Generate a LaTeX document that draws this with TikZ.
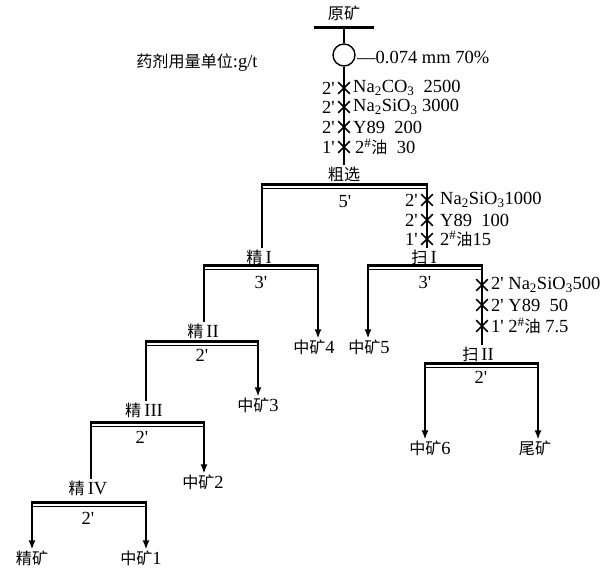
\documentclass[tikz,border=0pt]{standalone}
\usepackage{fontspec}
\setmainfont{Liberation Serif}
\newfontfamily\zh{Noto Sans CJK SC}[Scale=0.87]
\usetikzlibrary{arrows.meta,shapes.misc}

\begin{document}
\begin{tikzpicture}[
  x=1pt, y=-1pt,
  every node/.style={font=\fontsize{18.5}{20}\selectfont, inner sep=1pt},
  bartop/.style={line width=3pt, shorten <=-0.8pt, shorten >=-0.8pt},
  barbot/.style={line width=1pt, shorten <=-0.8pt, shorten >=-0.8pt},
  flow/.style={line width=1.5pt},
  flowarrow/.style={line width=1.5pt, -{Latex[length=9pt,width=7pt]}},
  dosemark/.style={cross out, draw, line width=1.6pt, minimum width=10pt, minimum height=10pt, inner sep=0pt},
  dose/.style={anchor=west, inner sep=0pt},
  dosetime/.style={anchor=east, inner sep=0pt},
]
\useasboundingbox (0,0) rectangle (612,568);

% feed and grinding
\node (unit) at (197,63) {{\zh 药剂用量单位}:g/t};
\node (feed) at (344,13) {\zh 原矿};
\coordinate (f1) at (315,27);
\coordinate (f2) at (373,27);
\coordinate (f0) at (344,27);
\draw[bartop] (f1) -- (f2);
\node[circle, draw, line width=1.4pt, minimum size=22pt, inner sep=0pt] (mill) at (344,55) {};
\node[dose] (grind) at (357,57) {—0.074 mm 70\%};
\node (rough) at (344,174) {\zh 粗选};
\draw[flow] (f0) -- (mill.north);
\draw[flow] (mill.south) -- (rough.north);
\node[dosemark] (x1) at (344,88) {};
\node[dosemark] (x2) at (344,107) {};
\node[dosemark] (x3) at (344,127) {};
\node[dosemark] (x4) at (344,147) {};
\node[dosetime] (t1) at (335,88) {2\textquotesingle};
\node[dosetime] (t2) at (335,107) {2\textquotesingle};
\node[dosetime] (t3) at (335,127) {2\textquotesingle};
\node[dosetime] (t4) at (335,147) {1\textquotesingle};
\node[dose] (d1) at (353,88) {Na\textsubscript{2}CO\textsubscript{3}\ \ 2500};
\node[dose] (d2) at (353,107) {Na\textsubscript{2}SiO\textsubscript{3} 3000};
\node[dose] (d3) at (353,127) {Y89\ \ 200};
\node[dose] (d4) at (355,147) {2\textsuperscript{\#}{\zh 油}\ \ 30};

% rougher
\coordinate (r1) at (262,184);
\coordinate (r2) at (427,184);
\draw[bartop] (r1) -- (r2);
\draw[barbot] ([yshift=-4.5pt]r1) -- ([yshift=-4.5pt]r2);
\node (rt) at (345,202) {5\textquotesingle};
\node (c1) at (259,257) {{\zh 精}\,I};
\node (s1) at (424,257) {{\zh 扫}\,I};
\draw[flow] (r1) -- (r1 |- c1.north);
\draw[flow] (r2) -- (r2 |- s1.north);
\node[dosemark] (y1) at (427,200) {};
\node[dosemark] (y2) at (427,220) {};
\node[dosemark] (y3) at (427,239) {};
\node[dosetime] (u1) at (418,200) {2\textquotesingle};
\node[dosetime] (u2) at (418,220) {2\textquotesingle};
\node[dosetime] (u3) at (418,239) {1\textquotesingle};
\node[dose] (e1) at (440,200) {Na\textsubscript{2}SiO\textsubscript{3}1000};
\node[dose] (e2) at (440,220) {Y89\ \ 100};
\node[dose] (e3) at (440,239) {2\textsuperscript{\#}{\zh 油}15};

% cleaner I
\coordinate (a1) at (204,265);
\coordinate (a2) at (318,265);
\draw[bartop] (a1) -- (a2);
\draw[barbot] ([yshift=-4.5pt]a1) -- ([yshift=-4.5pt]a2);
\node (at) at (261,282) {3\textquotesingle};
\node (c2) at (203,331) {{\zh 精}\,II};
\node (m4) at (314,347) {{\zh 中矿}4};
\draw[flow] (a1) -- (a1 |- c2.north);
\draw[flowarrow] (a2) -- (a2 |- m4.north);

% scavenger I
\coordinate (b1) at (368,265);
\coordinate (b2) at (482,265);
\draw[bartop] (b1) -- (b2);
\draw[barbot] ([yshift=-4.5pt]b1) -- ([yshift=-4.5pt]b2);
\node (bt) at (425,282) {3\textquotesingle};
\node (m5) at (369,347) {{\zh 中矿}5};
\node (s2) at (478,354) {{\zh 扫}\,II};
\draw[flowarrow] (b1) -- (b1 |- m5.north);
\draw[flow] (b2) -- (b2 |- s2.north);
\node[dosemark] (z1) at (482,285) {};
\node[dosemark] (z2) at (482,305) {};
\node[dosemark] (z3) at (482,326) {};
\node[dose] (g1) at (491,285) {2\textquotesingle\ Na\textsubscript{2}SiO\textsubscript{3}500};
\node[dose] (g2) at (491,305) {2\textquotesingle\ Y89\ \ 50};
\node[dose] (g3) at (491,326) {1\textquotesingle\ 2\textsuperscript{\#}{\zh 油} 7.5};

% scavenger II
\coordinate (h1) at (425,363);
\coordinate (h2) at (538,363);
\draw[bartop] (h1) -- (h2);
\draw[barbot] ([yshift=-4.5pt]h1) -- ([yshift=-4.5pt]h2);
\node (ht) at (481,377) {2\textquotesingle};
\node (m6) at (430,448) {{\zh 中矿}6};
\node (tail) at (535,448) {\zh 尾矿};
\draw[flowarrow] (h1) -- (h1 |- m6.north);
\draw[flowarrow] (h2) -- (h2 |- tail.north);

% cleaner II
\coordinate (k1) at (146,341);
\coordinate (k2) at (258,341);
\draw[bartop] (k1) -- (k2);
\draw[barbot] ([yshift=-4.5pt]k1) -- ([yshift=-4.5pt]k2);
\node (kt) at (202,355) {2\textquotesingle};
\node (c3) at (144,410) {{\zh 精}\,III};
\node (m3) at (258,405) {{\zh 中矿}3};
\draw[flow] (k1) -- (k1 |- c3.north);
\draw[flowarrow] (k2) -- (k2 |- m3.north);

% cleaner III
\coordinate (n1) at (91,422);
\coordinate (n2) at (204,422);
\draw[bartop] (n1) -- (n2);
\draw[barbot] ([yshift=-4.5pt]n1) -- ([yshift=-4.5pt]n2);
\node (nt) at (142,437) {2\textquotesingle};
\node (c4) at (88,488) {{\zh 精}\,IV};
\node (m2) at (203,482) {{\zh 中矿}2};
\draw[flow] (n1) -- (n1 |- c4.north);
\draw[flowarrow] (n2) -- (n2 |- m2.north);

% cleaner IV
\coordinate (p1) at (32,502);
\coordinate (p2) at (146,502);
\draw[bartop] (p1) -- (p2);
\draw[barbot] ([yshift=-4.5pt]p1) -- ([yshift=-4.5pt]p2);
\node (pt) at (88,518) {2\textquotesingle};
\node (conc) at (32,558) {\zh 精矿};
\node (m1) at (141,558) {{\zh 中矿}1};
\draw[flowarrow] (p1) -- (p1 |- conc.north);
\draw[flowarrow] (p2) -- (p2 |- m1.north);

\end{tikzpicture}
\end{document}
